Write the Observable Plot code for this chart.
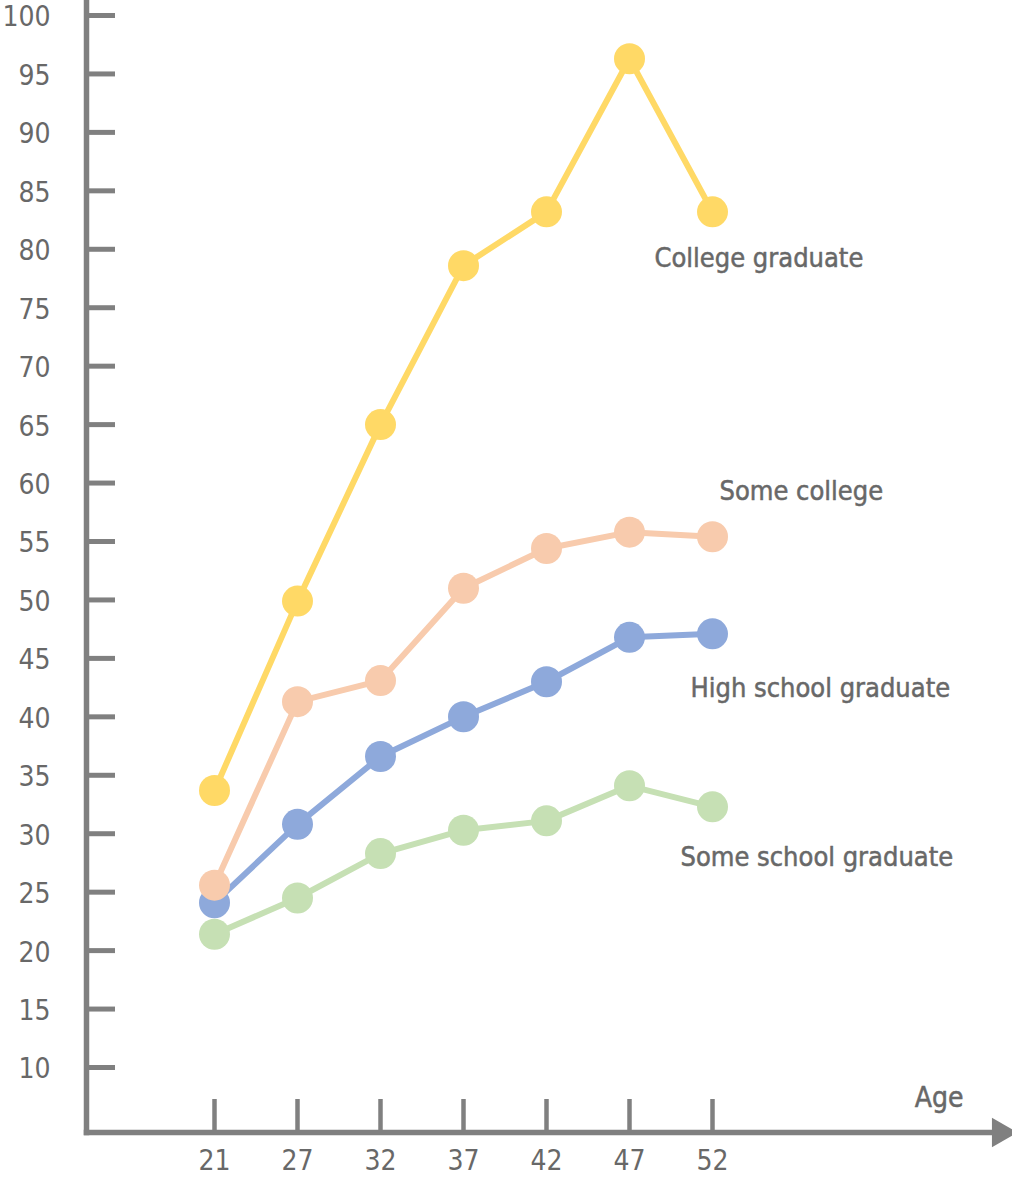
<!DOCTYPE html>
<html>
<head>
<meta charset="utf-8">
<script src="https://cdn.jsdelivr.net/npm/d3@7"></script>
<script src="https://cdn.jsdelivr.net/npm/@observablehq/plot@0.6"></script>
<style>
  html, body { margin: 0; padding: 0; background: #ffffff; }
  #chart svg { display: block; }
</style>
</head>
<body>
<div id="chart"></div>
<script>
// ---- data ----
const ages = ["21", "27", "32", "37", "42", "47", "52"];
const collegeGraduate    = [33.7, 49.9, 65.0, 78.6, 83.2, 96.3, 83.2];
const someCollege        = [25.6, 41.3, 43.1, 51.0, 54.4, 55.8, 55.4];
const highSchoolGraduate = [24.1, 30.8, 36.6, 40.0, 43.0, 46.8, 47.1];
const someSchoolGraduate = [21.4, 24.5, 28.3, 30.3, 31.1, 34.1, 32.3];
const seriesNames  = ["College graduate", "Some college", "High school graduate", "Some school graduate"];
const seriesValues = [collegeGraduate, someCollege, highSchoolGraduate, someSchoolGraduate];
const seriesColors = ["#FFD966", "#F8CBAD", "#8EA9DB", "#C6E0B4"];
const yTicks = [10, 15, 20, 25, 30, 35, 40, 45, 50, 55, 60, 65, 70, 75, 80, 85, 90, 95, 100];
const xAxisLabel = "Age";

// long table built from the arrays
const rows = seriesNames.flatMap((name, i) =>
  ages.map((age, j) => ({series: name, age, value: seriesValues[i][j]}))
);
const lastRows = seriesNames.map((name, i) => ({series: name, age: ages[ages.length - 1], value: seriesValues[i][ages.length - 1]}));

const axisGray = "#808080";
const textGray = "#686868";
const font = "'Liberation Sans Narrow', 'DejaVu Sans Condensed', 'Roboto', sans-serif";
const fs = 27;

// label offsets (style) per series, relative to its last point
const labelOffset = {
  "College graduate":     {dx: -58, dy: 46},
  "Some college":         {dx: 7,   dy: -45},
  "High school graduate": {dx: -22, dy: 55},
  "Some school graduate": {dx: -32, dy: 51}
};

const drawOrder = [3, 2, 1, 0];

const chart = Plot.plot({
  width: 1012,
  height: 1177,
  marginTop: 0,
  marginLeft: 86,
  marginRight: 12,
  marginBottom: 45,
  style: {fontFamily: font, background: "#ffffff"},
  x: {type: "point", domain: ages, range: [212, 714], padding: 0, align: 0.5, label: null},
  y: {type: "linear", domain: [10, 100], range: [1067, 15], label: null},
  color: {domain: seriesNames, range: seriesColors},
  marks: [
    // axis lines
    Plot.frame({anchor: "left", stroke: axisGray, strokeWidth: 5.5, strokeLinecap: "square"}),
    Plot.frame({anchor: "bottom", stroke: axisGray, strokeWidth: 5.5, strokeLinecap: "square"}),
    // arrow head on x axis
    Plot.dot([xAxisLabel], {frameAnchor: "bottom-right", symbol: "triangle", rotate: 90, r: 11, fill: axisGray, stroke: null}),
    // y tick marks (inward) and labels
    Plot.axisY(yTicks, {anchor: "left", tickSize: -29, strokeWidth: 5, stroke: axisGray, tickFormat: () => "", label: null}),
    Plot.axisY(yTicks, {anchor: "left", tickSize: 0, tickPadding: 36, fontSize: fs + 1, fill: textGray, stroke: textGray, strokeWidth: 0.5, label: null, dy: 2}),
    // x tick marks (upward) and labels
    Plot.axisX(ages, {anchor: "bottom", tickSize: -33, strokeWidth: 4.5, stroke: axisGray, tickFormat: () => "", label: null}),
    Plot.axisX(ages, {anchor: "bottom", tickSize: 0, tickPadding: 18, fontSize: fs + 1, fill: textGray, stroke: textGray, strokeWidth: 0.5, label: null}),
    // x axis title
    Plot.text([xAxisLabel], {frameAnchor: "bottom-right", text: d => d, textAnchor: "end", lineAnchor: "middle", dx: -37, dy: -34, fontSize: fs + 1, fill: textGray, stroke: textGray, strokeWidth: 0.5}),
    // lines
    ...drawOrder.map(i => Plot.line(rows.filter(r => r.series === seriesNames[i]), {
      x: "age", y: "value", stroke: "series", strokeWidth: 6
    })),
    // dots
    ...drawOrder.map(i => Plot.dot(rows.filter(r => r.series === seriesNames[i]), {
      x: "age", y: "value", fill: "series", r: 15.5, stroke: null
    })),
    // series labels
    ...seriesNames.map(name => Plot.text(lastRows.filter(r => r.series === name), {
      x: "age", y: "value", text: "series", textAnchor: "start", lineAnchor: "middle",
      dx: labelOffset[name].dx, dy: labelOffset[name].dy,
      fontSize: fs, fill: textGray, stroke: textGray, strokeWidth: 0.5
    }))
  ]
});

document.getElementById("chart").appendChild(chart);
</script>
</body>
</html>
